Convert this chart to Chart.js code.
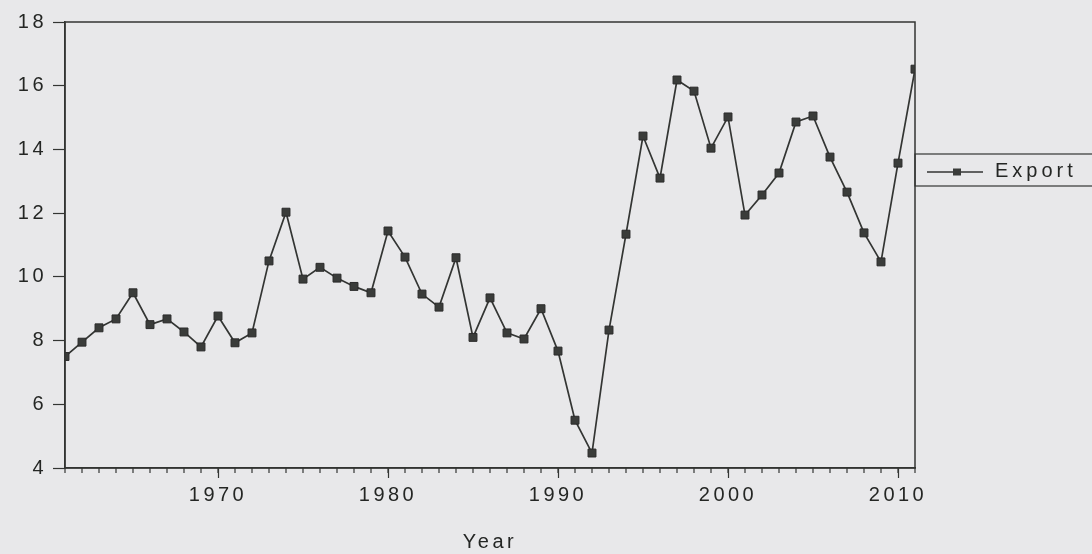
<!DOCTYPE html>
<html>
<head>
<meta charset="utf-8">
<script src="https://cdn.jsdelivr.net/npm/chart.js@4/dist/chart.umd.min.js"></script>
<style>
  html, body { margin: 0; padding: 0; background: #e8e8ea; }
  #wrap { width: 1092px; height: 554px; position: relative; }
</style>
</head>
<body>
<div id="wrap"><canvas id="chart"></canvas></div>
<script>
// data
const years = [
  1961, 1962, 1963, 1964, 1965, 1966, 1967, 1968, 1969, 1970,
  1971, 1972, 1973, 1974, 1975, 1976, 1977, 1978, 1979, 1980,
  1981, 1982, 1983, 1984, 1985, 1986, 1987, 1988, 1989, 1990,
  1991, 1992, 1993, 1994, 1995, 1996, 1997, 1998, 1999, 2000,
  2001, 2002, 2003, 2004, 2005, 2006, 2007, 2008, 2009, 2010, 2011
];
const exportValues = [
  7.5, 7.95, 8.4, 8.68, 9.5, 8.5, 8.68, 8.27, 7.8, 8.77,
  7.93, 8.24, 10.5, 12.03, 9.93, 10.3, 9.96, 9.7, 9.5, 11.44,
  10.62, 9.46, 9.05, 10.6, 8.1, 9.34, 8.24, 8.05, 9.0, 7.67,
  5.5, 4.47, 8.33, 11.34, 14.42, 13.1, 16.18, 15.83, 14.04, 15.02,
  11.94, 12.57, 13.26, 14.86, 15.05, 13.76, 12.66, 11.38, 10.47, 13.57, 16.52
];
const xTickLabels = [1970, 1980, 1990, 2000, 2010];
const yTickLabels = [4, 6, 8, 10, 12, 14, 16, 18];
const seriesName = 'Export';
const xTitle = 'Year';

const ink = '#333533';
const textColor = '#242624';
const fontFamily = '"Liberation Sans", Arial, sans-serif';

// frame, minor year ticks and legend box
const extras = {
  id: 'extras',
  beforeDraw(chart) {
    chart.ctx.letterSpacing = '3.5px';
  },
  afterDraw(chart) {
    const ctx = chart.ctx;
    const a = chart.chartArea;
    const xs = chart.scales.x;
    ctx.save();
    ctx.strokeStyle = ink;
    ctx.lineWidth = 1.5;
    ctx.strokeRect(a.left, a.top, a.right - a.left, a.bottom - a.top);

    // minor ticks every year
    ctx.lineWidth = 1.2;
    years.forEach(function(y) {
      const px = xs.getPixelForValue(y);
      ctx.beginPath();
      ctx.moveTo(px, a.bottom);
      ctx.lineTo(px, a.bottom + 5);
      ctx.stroke();
    });

    // legend
    const top = a.top + 132, h = 32;
    ctx.lineWidth = 1.2;
    ctx.strokeRect(a.right, top, 300, h);
    const cy = top + h / 2 + 2;
    ctx.lineWidth = 1.5;
    ctx.beginPath();
    ctx.moveTo(a.right + 12, cy);
    ctx.lineTo(a.right + 68, cy);
    ctx.stroke();
    ctx.fillStyle = '#3a3c3a';
    ctx.fillRect(a.right + 38, cy - 3.5, 8, 7);
    ctx.font = '20px ' + fontFamily;
    ctx.letterSpacing = '4px';
    ctx.textBaseline = 'middle';
    ctx.fillStyle = textColor;
    ctx.fillText(seriesName, a.right + 80, cy - 1);
    ctx.restore();
  }
};

new Chart(document.getElementById('chart'), {
  type: 'line',
  data: {
    datasets: [{
      label: seriesName,
      data: years.map(function(y, i) { return { x: y, y: exportValues[i] }; }),
      borderColor: ink,
      borderWidth: 1.7,
      pointStyle: 'rect',
      pointRadius: 5.6,
      pointBackgroundColor: '#3a3c3a',
      pointBorderColor: '#2a2a2a',
      pointBorderWidth: 1,
      tension: 0
    }]
  },
  plugins: [extras],
  options: {
    responsive: true,
    maintainAspectRatio: false,
    animation: false,
    layout: { padding: { top: 22, right: 177, left: 0, bottom: 0 } },
    plugins: {
      legend: { display: false },
      tooltip: { enabled: false }
    },
    scales: {
      x: {
        type: 'linear',
        min: 1961,
        max: 2011,
        afterBuildTicks: function(scale) {
          scale.ticks = xTickLabels.map(function(v) { return { value: v }; });
        },
        afterFit: function(scale) { scale.height = 86; },
        grid: { drawOnChartArea: false, tickLength: 10, tickColor: ink, tickWidth: 1.2 },
        border: { color: ink, width: 1.5 },
        ticks: {
          color: textColor,
          padding: 5,
          maxRotation: 0,
          font: { family: fontFamily, size: 20 },
          callback: function(v) { return String(v); }
        },
        title: {
          display: true,
          text: xTitle,
          color: textColor,
          padding: { top: 22, bottom: 0 },
          font: { family: fontFamily, size: 20 }
        }
      },
      y: {
        min: 4,
        max: 18,
        afterBuildTicks: function(scale) {
          scale.ticks = yTickLabels.map(function(v) { return { value: v }; });
        },
        afterFit: function(scale) { scale.width = 65; },
        grid: { drawOnChartArea: false, tickLength: 12, tickColor: ink, tickWidth: 1.2 },
        border: { color: ink, width: 1.5 },
        ticks: {
          color: textColor,
          padding: 6,
          font: { family: fontFamily, size: 20 }
        }
      }
    }
  }
});
</script>
</body>
</html>
